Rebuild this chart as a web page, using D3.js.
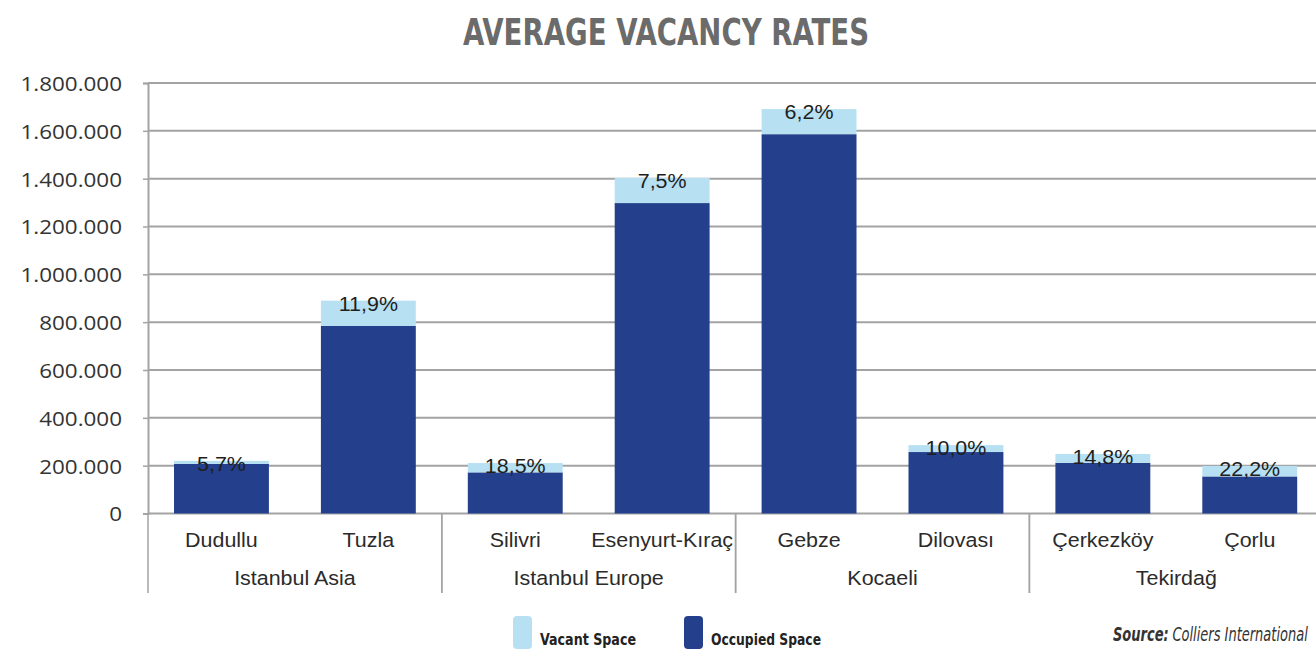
<!DOCTYPE html>
<html>
<head>
<meta charset="utf-8">
<script src="https://cdn.jsdelivr.net/npm/d3@7"></script>
<style>
  html, body { margin: 0; padding: 0; background: #fff; overflow: hidden; }
  text { font-family: "Liberation Sans", Arial, sans-serif; }
</style>
</head>
<body>
<svg id="chart"></svg>
<script>
const width = 1316;
const height = 650;

// data
const categories = ['Dudullu', 'Tuzla', 'Silivri', 'Esenyurt-Kıraç', 'Gebze', 'Dilovası', 'Çerkezköy', 'Çorlu'];
const regions = ['Istanbul Asia', 'Istanbul Asia', 'Istanbul Europe', 'Istanbul Europe', 'Kocaeli', 'Kocaeli', 'Tekirdağ', 'Tekirdağ'];
const occupied = [207000, 784000, 172000, 1298000, 1586000, 257000, 212000, 155000];
const vacant = [13000, 106000, 39000, 105000, 105000, 29000, 37000, 44000];
const rateLabels = ['5,7%', '11,9%', '18,5%', '7,5%', '6,2%', '10,0%', '14,8%', '22,2%'];
const yTicks = [0, 200000, 400000, 600000, 800000, 1000000, 1200000, 1400000, 1600000, 1800000];

const colOccupied = '#243f8b';
const colVacant = '#b7e1f3';
const colGrid = '#a3a3a3';
const condensed = '"Liberation Sans Narrow", "DejaVu Sans Condensed", "Liberation Sans", sans-serif';

const svg = d3.select('#chart')
  .attr('width', width)
  .attr('height', height);

const x = d3.scaleBand()
  .domain(categories)
  .range([148, 148 + 8 * 146.9])
  .paddingInner(0.354)
  .paddingOuter(0.177);

const y = d3.scaleLinear()
  .domain([0, 1800000])
  .range([513.5, 83]);

const loc = d3.formatLocale({ decimal: ',', thousands: '.', grouping: [3], currency: ['', ''] });
const fmt = loc.format(',.0f');

// title
svg.append('text')
  .attr('x', 666)
  .attr('y', 45)
  .attr('text-anchor', 'middle')
  .attr('textLength', 406)
  .attr('lengthAdjust', 'spacingAndGlyphs')
  .style('font-family', condensed)
  .style('font-weight', 'bold')
  .style('font-size', '38px')
  .attr('fill', '#6b6b6b')
  .text('AVERAGE VACANCY RATES');

// grid lines
svg.append('g')
  .selectAll('line')
  .data(yTicks)
  .enter().append('line')
  .attr('x1', 148)
  .attr('x2', width)
  .attr('y1', d => y(d))
  .attr('y2', d => y(d))
  .attr('stroke', colGrid)
  .attr('stroke-width', 2);

// y axis
const yAxis = svg.append('g')
  .attr('transform', 'translate(148,0)')
  .call(d3.axisLeft(y).tickValues(yTicks).tickFormat(d => fmt(d)).tickSize(5).tickPadding(0));
yAxis.select('.domain').attr('stroke', colGrid).attr('stroke-width', 2);
yAxis.selectAll('.tick line').attr('stroke', colGrid).attr('stroke-width', 1.5);
yAxis.selectAll('.tick text')
  .attr('x', null)
  .attr('dy', null)
  .attr('dominant-baseline', 'central')
  .attr('transform', 'translate(-26,0) scale(1.15,1)')
  .style('font-family', '"Open Sans", sans-serif')
  .style('font-size', '19.5px')
  .attr('fill', '#333');

// bars
const rows = categories.map((c, i) => ({ cat: c, occ: occupied[i], vac: vacant[i], label: rateLabels[i] }));

const barG = svg.append('g');
barG.selectAll('rect.occ')
  .data(rows)
  .enter().append('rect')
  .attr('class', 'occ')
  .attr('x', d => x(d.cat))
  .attr('width', x.bandwidth())
  .attr('y', d => y(d.occ))
  .attr('height', d => y(0) - y(d.occ))
  .attr('fill', colOccupied);

barG.selectAll('rect.vac')
  .data(rows)
  .enter().append('rect')
  .attr('class', 'vac')
  .attr('x', d => x(d.cat))
  .attr('width', x.bandwidth())
  .attr('y', d => y(d.occ + d.vac))
  .attr('height', d => y(d.occ) - y(d.occ + d.vac))
  .attr('fill', colVacant);

// rate labels
barG.selectAll('text.rate')
  .data(rows)
  .enter().append('text')
  .attr('class', 'rate')
  .attr('transform', d => 'translate(' + (x(d.cat) + x.bandwidth() / 2) + ',' + (y(d.occ + d.vac) + 3) + ') scale(1.1,1)')
  .attr('text-anchor', 'middle')
  .attr('dominant-baseline', 'central')
  .style('font-size', '19.5px')
  .attr('fill', '#1e1e1e')
  .text(d => d.label);

// category labels
svg.append('g')
  .selectAll('text')
  .data(categories)
  .enter().append('text')
  .attr('transform', d => 'translate(' + (x(d) + x.bandwidth() / 2) + ',547) scale(1.1,1)')
  .attr('text-anchor', 'middle')
  .style('font-size', '19.5px')
  .attr('fill', '#2b2b2b')
  .text(d => d);

// region groups
const groups = [];
regions.forEach((r, i) => {
  const last = groups[groups.length - 1];
  if (last && last.name === r) last.cats.push(categories[i]);
  else groups.push({ name: r, cats: [categories[i]] });
});
const bandStart = c => x(c) - x.step() * x.paddingOuter();

const sepG = svg.append('g');
groups.forEach(g => {
  const x0 = bandStart(g.cats[0]);
  const x1 = bandStart(g.cats[g.cats.length - 1]) + x.step();
  [x0, x1].forEach(xx => {
    sepG.append('line')
      .attr('x1', xx).attr('x2', xx)
      .attr('y1', y(0)).attr('y2', 593)
      .attr('stroke', colGrid)
      .attr('stroke-width', 1.5);
  });
  svg.append('text')
    .attr('transform', 'translate(' + ((x0 + x1) / 2) + ',585) scale(1.1,1)')
    .attr('text-anchor', 'middle')
    .style('font-size', '19.5px')
    .attr('fill', '#2b2b2b')
    .text(g.name);
});

// legend
const legend = [
  { name: 'Vacant Space', color: colVacant, x: 513, w: 96 },
  { name: 'Occupied Space', color: colOccupied, x: 684, w: 110 }
];
const lg = svg.append('g').selectAll('g')
  .data(legend)
  .enter().append('g')
  .attr('transform', d => 'translate(' + d.x + ',616)');
lg.append('rect')
  .attr('width', 19)
  .attr('height', 33)
  .attr('rx', 4)
  .attr('fill', d => d.color);
lg.append('text')
  .attr('x', 27)
  .attr('y', 29)
  .attr('textLength', d => d.w)
  .attr('lengthAdjust', 'spacingAndGlyphs')
  .style('font-family', condensed)
  .style('font-weight', 'bold')
  .style('font-size', '16px')
  .attr('fill', '#222')
  .text(d => d.name);

// source, squeezed to fit before the right edge
const srcX = 1113, srcY = 641, srcEnd = 1308;
const s1 = svg.append('text')
  .style('font-family', condensed)
  .style('font-style', 'italic')
  .style('font-weight', 'bold')
  .style('font-size', '20px')
  .attr('fill', '#333')
  .text('Source:');
const s2 = svg.append('text')
  .style('font-family', condensed)
  .style('font-style', 'italic')
  .style('font-size', '20px')
  .attr('fill', '#333')
  .text('Colliers International');
const w1 = s1.node().getComputedTextLength();
const w2 = s2.node().getComputedTextLength();
const gap = 5;
const sx = Math.min(1, (srcEnd - srcX) / (w1 + gap + w2));
s1.attr('transform', 'translate(' + srcX + ',' + srcY + ') scale(' + sx + ',1)');
s2.attr('transform', 'translate(' + (srcX + (w1 + gap) * sx) + ',' + srcY + ') scale(' + sx + ',1)');
</script>
</body>
</html>
